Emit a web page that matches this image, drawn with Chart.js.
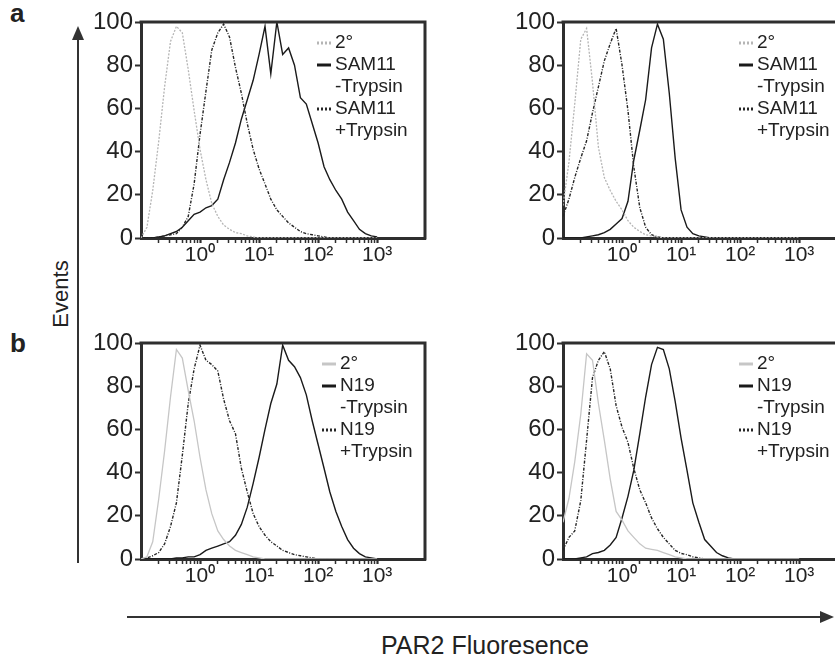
<!DOCTYPE html>
<html>
<head>
<meta charset="utf-8">
<script src="https://cdn.jsdelivr.net/npm/chart.js@4.4.1/dist/chart.umd.min.js"></script>
<style>
  html, body { margin: 0; padding: 0; background: #fff; }
  body { width: 835px; height: 657px; overflow: hidden; position: relative; }
  .panel { position: absolute; }
  svg { position: absolute; left: 0; top: 0; }
</style>
</head>
<body>
<svg width="835" height="657" font-family="'Liberation Sans', Arial, sans-serif">
  <line x1="78" y1="563" x2="78" y2="38" stroke="#333" stroke-width="2"/>
  <polygon points="78,26 72,40 84,40" fill="#333"/>
  <line x1="127" y1="617" x2="822" y2="617" stroke="#333" stroke-width="2"/>
  <polygon points="834,617 820,611 820,623" fill="#333"/>
  <text x="10" y="22" font-size="26" font-weight="bold" fill="#222">a</text>
  <text x="10" y="352" font-size="26" font-weight="bold" fill="#222">b</text>
  <text transform="translate(68,294) rotate(-90)" text-anchor="middle" font-size="22" fill="#222">Events</text>
  <text x="381" y="654" font-size="25" fill="#222">PAR2 Fluoresence</text>
</svg>
<canvas id="aL" class="panel" width="400" height="290" style="left:40px;top:0px"></canvas>
<canvas id="aR" class="panel" width="400" height="290" style="left:480px;top:0px"></canvas>
<canvas id="bL" class="panel" width="400" height="290" style="left:40px;top:320px"></canvas>
<canvas id="bR" class="panel" width="400" height="290" style="left:480px;top:320px"></canvas>
<script>
// ---------- DATA ----------
// fluorescence channel values (log-spaced, 0.1 decade steps from 10^-1 to 10^3)
const fluorescence = [0.1, 0.126, 0.158, 0.2, 0.251, 0.316, 0.398, 0.501, 0.631, 0.794,
  1, 1.26, 1.58, 2.0, 2.51, 3.16, 3.98, 5.01, 6.31, 7.94,
  10, 12.6, 15.8, 20, 25.1, 31.6, 39.8, 50.1, 63.1, 79.4,
  100, 126, 158, 200, 251, 316, 398, 501, 631, 794, 1000];

// panel a, left
const aLeftSecondary = [0, 5, 22, 45, 70, 91, 98, 95, 78, 59, 41, 27, 16, 10, 6, 4, 2.5, 2, 1, 0.5,
  0, 0, 0, 0, 0, 0, 0, 0, 0, 0, 0, 0, 0, 0, 0, 0, 0, 0, 0, 0, 0];
const aLeftMinusTrypsin = [0, 0, 0, 0.5, 1, 2, 3, 5, 8, 11, 12, 14, 15, 18, 27, 35, 44, 55, 64, 73,
  85, 98, 76, 100, 85, 88, 80, 65, 62, 53, 44, 33, 27, 22, 18, 12, 8, 4, 2, 1, 0.5];
const aLeftPlusTrypsin = [0, 0, 0, 0.5, 1, 1.5, 2, 5, 10, 25, 48, 68, 87, 95, 99, 93, 79, 67, 53, 41,
  32, 25, 18, 13, 10, 7, 5, 3, 2, 1.5, 1, 0.5, 0, 0, 0, 0, 0, 0, 0, 0, 0];

// panel a, right
const aRightSecondary = [15, 35, 62, 92, 97, 72, 42, 28, 22, 17, 13, 8, 5, 3, 1.5, 1, 0.5, 0, 0, 0,
  0, 0, 0, 0, 0, 0, 0, 0, 0, 0, 0, 0, 0, 0, 0, 0, 0, 0, 0, 0, 0];
const aRightMinusTrypsin = [0, 0, 0, 0, 0.5, 1, 1.5, 2.5, 4, 6.5, 9, 17, 36, 50, 64, 88, 99, 92, 67, 37,
  13, 5, 2, 1, 0.5, 0, 0, 0, 0, 0, 0, 0, 0, 0, 0, 0, 0, 0, 0, 0, 0];
const aRightPlusTrypsin = [10, 18, 28, 37, 45, 58, 70, 82, 90, 97, 80, 59, 33, 14, 5, 1.5, 0.5, 0, 0, 0,
  0, 0, 0, 0, 0, 0, 0, 0, 0, 0, 0, 0, 0, 0, 0, 0, 0, 0, 0, 0, 0];

// panel b, left
const bLeftSecondary = [0, 1, 8, 28, 50, 75, 97, 93, 78, 64, 47, 32, 21, 13, 9, 6, 4, 3, 2, 1,
  0.5, 0, 0, 0, 0, 0, 0, 0, 0, 0, 0, 0, 0, 0, 0, 0, 0, 0, 0, 0, 0];
const bLeftMinusTrypsin = [0, 0, 0, 0, 0, 0, 0.5, 0.5, 1, 1, 2, 4, 5, 6, 7, 8, 11, 16, 24, 35,
  47, 60, 72, 81, 99, 92, 89, 84, 76, 64, 53, 42, 31, 22, 15, 9, 5, 2.5, 1, 0.5, 0];
const bLeftPlusTrypsin = [0, 0.5, 1.5, 3, 7, 15, 26, 48, 72, 88, 99, 92, 90, 87, 74, 64, 58, 42, 31, 21,
  15, 11, 8, 6, 4, 3, 2, 1.5, 1, 0.5, 0, 0, 0, 0, 0, 0, 0, 0, 0, 0, 0];

// panel b, right
const bRightSecondary = [17, 28, 45, 67, 95, 92, 72, 55, 37, 22, 18, 13, 10, 7, 5, 4.5, 4, 3, 2, 1,
  0.5, 0, 0, 0, 0, 0, 0, 0, 0, 0, 0, 0, 0, 0, 0, 0, 0, 0, 0, 0, 0];
const bRightMinusTrypsin = [0, 0, 0, 0.5, 1, 2.5, 3, 4, 6.5, 10, 19, 29, 41, 58, 75, 90, 98, 97, 88, 73,
  56, 41, 26, 17, 9, 6, 3, 1.5, 0.5, 0, 0, 0, 0, 0, 0, 0, 0, 0, 0, 0, 0];
const bRightPlusTrypsin = [4, 10, 13, 27, 55, 84, 92, 96, 88, 71, 61, 54, 42, 32, 26, 19, 14, 10, 7, 4,
  2.6, 2, 1, 0.5, 0, 0, 0, 0, 0, 0, 0, 0, 0, 0, 0, 0, 0, 0, 0, 0, 0];

// axes
const yTicks = [0, 20, 40, 60, 80, 100];
const xMajorTicks = [1, 10, 100, 1000];
const xTickLabels = ['10\u2070', '10\u00B9', '10\u00B2', '10\u00B3'];
const xMinorTicks = [0.2, 0.3, 0.4, 0.5, 0.6, 0.7, 0.8, 0.9, 2, 3, 4, 5, 6, 7, 8, 9,
  20, 30, 40, 50, 60, 70, 80, 90, 200, 300, 400, 500, 600, 700, 800, 900];

// legends
const legendSAM11 = ['2\u00B0', 'SAM11', '-Trypsin', 'SAM11', '+Trypsin'];
const legendN19 = ['2\u00B0', 'N19', '-Trypsin', 'N19', '+Trypsin'];
const seriesNamesSAM11 = ['2\u00B0', 'SAM11 -Trypsin', 'SAM11 +Trypsin'];
const seriesNamesN19 = ['2\u00B0', 'N19 -Trypsin', 'N19 +Trypsin'];

// ---------- CHARTS ----------
const FONT = '"Liberation Sans", Arial, Helvetica, sans-serif';
Chart.defaults.font.family = FONT;
Chart.defaults.color = '#222';

const frameColor = '#2e2e2e';
const allXTicks = xMinorTicks.concat(xMajorTicks).sort((a, b) => a - b);

const framePlugin = {
  id: 'frame',
  afterDraw(chart) {
    const { ctx, chartArea: a } = chart;
    ctx.save();
    ctx.strokeStyle = frameColor;
    ctx.lineWidth = 3;
    ctx.beginPath();
    ctx.moveTo(a.left - 1.5, a.top);
    ctx.lineTo(a.right, a.top);
    ctx.lineTo(a.right, a.bottom + 1.5);
    ctx.stroke();
    ctx.restore();
  }
};

const legendPlugin = {
  id: 'panelLegend',
  afterDraw(chart, args, opts) {
    const { ctx, chartArea: a } = chart;
    const x0 = a.left + opts.dx;
    ctx.save();
    ctx.font = '19px ' + FONT;
    ctx.fillStyle = '#222';
    ctx.textBaseline = 'middle';
    ctx.textAlign = 'left';
    opts.lines.forEach((t, i) => {
      ctx.fillText(t, x0 + opts.textGap, a.top + opts.top + i * opts.step);
    });
    opts.symbols.forEach(s => {
      const ds = chart.data.datasets[s.dataset];
      const y = a.top + opts.top + s.line * opts.step;
      ctx.strokeStyle = s.color || ds.borderColor;
      ctx.lineWidth = 3;
      ctx.setLineDash(s.dash || []);
      ctx.beginPath();
      ctx.moveTo(x0, y);
      ctx.lineTo(x0 + 14, y);
      ctx.stroke();
    });
    ctx.restore();
  }
};

function makePanel(id, series, names, legendLines, secondaryDotted, yAxisWidth, pad, legendDx) {
  const toPts = arr => fluorescence.map((x, i) => ({ x: x, y: arr[i] }));
  const grayDash = secondaryDotted ? [2, 1.5] : [];
  const datasets = [
    { label: names[0], data: toPts(series[0]), borderColor: secondaryDotted ? '#b5b5b5' : '#c6c6c6',
      borderWidth: 1.3, borderDash: grayDash },
    { label: names[2], data: toPts(series[2]), borderColor: '#262626', borderWidth: 1.4,
      borderDash: [3, 1.5, 1, 1.5] },
    { label: names[1], data: toPts(series[1]), borderColor: '#1a1a1a', borderWidth: 1.4 }
  ].map(d => Object.assign(d, { pointRadius: 0, tension: 0, fill: false }));

  return new Chart(document.getElementById(id), {
    type: 'line',
    data: { datasets },
    options: {
      responsive: false,
      animation: false,
      devicePixelRatio: 1,
      layout: { padding: pad },
      plugins: {
        legend: { display: false },
        tooltip: { enabled: false },
        panelLegend: {
          dx: legendDx, textGap: 18, top: 21, step: 22, lines: legendLines,
          symbols: [
            { line: 0, dataset: 0, dash: secondaryDotted ? [2, 2] : [] },
            { line: 1, dataset: 2 },
            { line: 3, dataset: 1, dash: [2, 2] }
          ]
        }
      },
      scales: {
        x: {
          type: 'logarithmic',
          position: 'bottom',
          min: 0.1,
          max: 6460,
          z: 1,
          afterFit: s => { s.height = 40; },
          afterBuildTicks: s => {
            s.ticks = allXTicks.map(v => ({ value: v, major: xMajorTicks.includes(v) }));
          },
          ticks: {
            autoSkip: false,
            maxRotation: 0,
            padding: 0,
            color: '#222',
            font: { size: 21 },
            callback: v => {
              const i = xMajorTicks.indexOf(v);
              return i >= 0 ? xTickLabels[i] : '';
            }
          },
          grid: {
            drawOnChartArea: false,
            drawTicks: true,
            tickLength: 5,
            tickColor: frameColor,
            tickWidth: c => (c.tick && xMajorTicks.includes(c.tick.value)) ? 2.2 : 1.5
          },
          border: { display: true, color: frameColor, width: 3 }
        },
        y: {
          type: 'linear',
          min: 0,
          max: 100,
          z: 1,
          afterFit: s => { s.width = yAxisWidth; },
          afterBuildTicks: s => { s.ticks = yTicks.map(v => ({ value: v })); },
          ticks: { padding: 2, color: '#222', font: { size: 24 } },
          grid: {
            drawOnChartArea: false,
            drawTicks: true,
            tickLength: 6,
            tickColor: frameColor,
            tickWidth: 2
          },
          border: { display: true, color: frameColor, width: 3 }
        }
      }
    },
    plugins: [framePlugin, legendPlugin]
  });
}

makePanel('aL', [aLeftSecondary, aLeftMinusTrypsin, aLeftPlusTrypsin], seriesNamesSAM11, legendSAM11,
  true, 101, { left: 0, top: 22, right: 15, bottom: 12 }, 176);
makePanel('aR', [aRightSecondary, aRightMinusTrypsin, aRightPlusTrypsin], seriesNamesSAM11, legendSAM11,
  true, 83, { left: 0, top: 22, right: 33, bottom: 12 }, 176);
makePanel('bL', [bLeftSecondary, bLeftMinusTrypsin, bLeftPlusTrypsin], seriesNamesN19, legendN19,
  false, 101, { left: 0, top: 23, right: 15, bottom: 11 }, 181);
makePanel('bR', [bRightSecondary, bRightMinusTrypsin, bRightPlusTrypsin], seriesNamesN19, legendN19,
  false, 83, { left: 0, top: 23, right: 33, bottom: 11 }, 176);
</script>
</body>
</html>
